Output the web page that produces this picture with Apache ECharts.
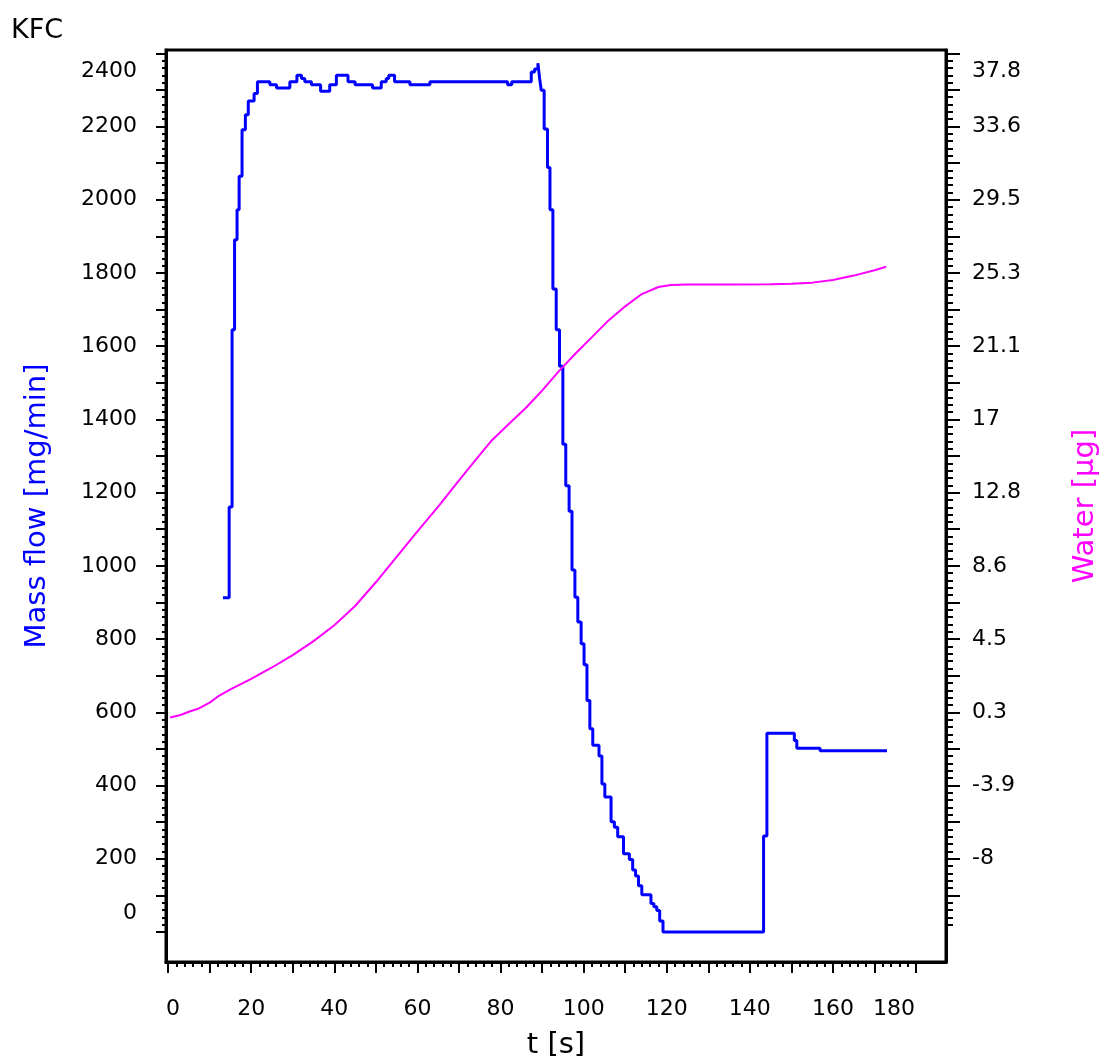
<!DOCTYPE html>
<html>
<head>
<meta charset="utf-8">
<script src="https://cdn.jsdelivr.net/npm/echarts@6/dist/echarts.min.js"></script>
<style>
html,body{margin:0;padding:0;background:#fff;}
#chart{width:1104px;height:1064px;}
</style>
</head>
<body>
<div id="chart"></div>
<script>
// ---------------- data ----------------
const massFlowT = [13.2,14.7,15.4,16.0,16.6,17.1,17.8,18.6,19.3,20.7,21.5,24.5,26.1,29.3,31.0,32.1,32.9,34.5,36.7,38.9,40.5,43.3,45.0,49.2,51.3,52.5,53.1,54.5,58.2,63.0,81.7,82.7,87.4,88.2,89.0,89.4,89.8,90.5,91.3,91.9,92.6,93.4,94.2,95.0,95.7,96.5,97.2,97.9,98.6,99.4,100.1,100.8,101.5,102.2,103.7,104.4,105.1,106.6,107.4,108.2,109.6,111.0,111.8,112.5,113.2,114.0,116.2,116.9,117.6,118.3,119.1,143.3,144.1,150.7,151.3,156.9,173.0];
const massFlowV = [913,1161,1645,1891,1973,2064,2191,2232,2270,2290,2322,2314,2305,2322,2340,2331,2322,2314,2296,2314,2340,2322,2314,2305,2322,2331,2340,2322,2314,2322,2314,2322,2349,2357,2373,2332,2299,2193,2088,1973,1756,1645,1545,1332,1219,1149,989,914,847,787,730,632,555,510,481,404,369,301,286,260,214,198,169,153,126,102,78,69,59,30,0,262,543,523,502,495,495];

const waterT = [0.5,3.0,5.0,7.2,10.0,12.0,15.0,20.0,25.0,30.0,35.0,40.0,45.0,50.0,55.0,60.0,65.0,70.0,75.0,78.0,82.0,86.0,90.0,94.0,98.0,102.0,106.0,110.0,114.0,118.0,121.0,125.0,135.0,145.0,150.0,155.0,160.0,165.0,170.0,172.8];
const waterV = [0.0,0.15,0.33,0.5,0.85,1.2,1.6,2.2,2.85,3.55,4.35,5.25,6.35,7.7,9.15,10.6,12.0,13.5,14.95,15.8,16.7,17.6,18.6,19.7,20.7,21.65,22.6,23.4,24.1,24.5,24.62,24.65,24.65,24.66,24.68,24.75,24.9,25.15,25.45,25.65];

const xTickLabels = [0,20,40,60,80,100,120,140,160,180];
const leftTickLabels = [0,200,400,600,800,1000,1200,1400,1600,1800,2000,2200,2400];
const rightTickLabels = ['-8','-3.9','0.3','4.5','8.6','12.8','17','21.1','25.3','29.5','33.6','37.8'];

// ---------------- axis calibration ----------------
const xMin = -0.5, xMax = 187.2;
const leftMin = -82, leftMax = 2409;
// water axis is linearly tied to the mass-flow axis: 0 mg/min <-> -12.2 ug, 2400 <-> 37.8
const toWater = v => -12.2 + v * 50 / 2400;
const rightMin = toWater(leftMin), rightMax = toWater(leftMax);

function range(a, b, step) {
  const r = [];
  for (let v = a; v <= b + 1e-9; v += step) r.push(Math.round(v * 1000) / 1000);
  return r;
}
const xMajor = range(0, 180, 10);
const xMinor = range(0, 180, 2).filter(v => v % 10 !== 0);
const leftMajor = range(0, 2400, 100);
const leftMinor = range(0, 2400, 20).filter(v => v % 100 !== 0);
const rightMajor = range(100, 2400, 100).map(toWater);
const rightMinor = range(20, 2400, 20).filter(v => v % 100 !== 0).map(toWater);
const rightLabelPos = rightTickLabels.map((s, i) => toWater(200 * (i + 1)));

const FONT = 'DejaVu Sans';
const BLUE = '#0000ff', MAGENTA = '#ff00ff';
const lblBase = { fontSize: 22, fontFamily: FONT, color: '#000' };
const TOP_SHIFT = [36, 0, 0, 0];

function zip(a, b) { return a.map((v, i) => [v, b[i]]); }

const chart = echarts.init(document.getElementById('chart'), null, { renderer: 'canvas' });

const minorAxisCommon = {
  type: 'value',
  axisLine: { show: false, onZero: false },
  axisLabel: { show: false },
  splitLine: { show: false }
};

chart.setOption({
  animation: false,
  backgroundColor: '#fff',
  title: {
    text: 'KFC', left: 11, top: 17, padding: 0,
    textStyle: { fontSize: 27, fontWeight: 'normal', fontFamily: FONT, color: '#000' }
  },
  grid: {
    left: 166, top: 50, width: 780, height: 912,
    show: true, borderColor: '#000', borderWidth: 3, backgroundColor: 'transparent',
    containLabel: false, outerBoundsMode: 'none'
  },
  xAxis: [
    {
      type: 'value', min: xMin, max: xMax, position: 'bottom',
      name: 't [s]', nameLocation: 'middle', nameGap: 69, nameMoveOverlap: false,
      nameTextStyle: { fontSize: 29, fontFamily: FONT, color: '#000' },
      axisLine: { show: true, onZero: false, lineStyle: { color: '#000', width: 3 } },
      axisTick: { show: true, customValues: xMajor, length: 11, lineStyle: { color: '#000', width: 2 } },
      axisLabel: {
        customValues: xTickLabels, margin: 36, ...lblBase,
        formatter: v => v === xTickLabels[0] ? '{l|' + v + '}' : (v === xTickLabels[xTickLabels.length - 1] ? '{r|' + v + '}' : String(v)),
        rich: { l: { ...lblBase, padding: [0, 0, 0, 10] }, r: { ...lblBase, padding: [0, 44, 0, 0] } }
      },
      splitLine: { show: false }
    },
    {
      ...minorAxisCommon, min: xMin, max: xMax, position: 'bottom',
      axisTick: { show: true, customValues: xMinor, length: 5, lineStyle: { color: '#000', width: 2 } }
    }
  ],
  yAxis: [
    {
      type: 'value', min: leftMin, max: leftMax, position: 'left',
      name: 'Mass flow [mg/min]', nameLocation: 'middle', nameRotate: 90, nameGap: 114, nameMoveOverlap: false,
      nameTextStyle: { fontSize: 29, fontFamily: FONT, color: BLUE },
      axisLine: { show: true, onZero: false, lineStyle: { color: '#000', width: 3 } },
      axisTick: { show: true, customValues: leftMajor, length: 10, lineStyle: { color: '#000', width: 2 } },
      axisLabel: {
        customValues: leftTickLabels, margin: 29, ...lblBase,
        formatter: v => v === leftTickLabels[leftTickLabels.length - 1] ? '{t|' + v + '}' : (v === leftTickLabels[0] ? '{b|' + v + '}' : String(v)),
        rich: { t: { ...lblBase, padding: TOP_SHIFT }, b: { ...lblBase, padding: [0, 0, 38, 0] } }
      },
      splitLine: { show: false }
    },
    {
      type: 'value', min: rightMin, max: rightMax, position: 'right',
      name: 'Water [µg]', nameLocation: 'middle', nameRotate: 90, nameGap: 125, nameMoveOverlap: false,
      nameTextStyle: { fontSize: 29, fontFamily: FONT, color: MAGENTA },
      axisLine: { show: true, onZero: false, lineStyle: { color: '#000', width: 3 } },
      axisTick: { show: true, customValues: rightMajor, length: 14, lineStyle: { color: '#000', width: 2 } },
      axisLabel: {
        customValues: rightLabelPos, margin: 26, ...lblBase,
        formatter: v => {
          let best = 0;
          rightLabelPos.forEach((p, i) => { if (Math.abs(p - v) < Math.abs(rightLabelPos[best] - v)) best = i; });
          const s = rightTickLabels[best];
          return best === rightTickLabels.length - 1 ? '{t|' + s + '}' : s;
        },
        rich: { t: { ...lblBase, padding: TOP_SHIFT } }
      },
      splitLine: { show: false }
    },
    {
      ...minorAxisCommon, min: leftMin, max: leftMax, position: 'left',
      axisTick: { show: true, customValues: leftMinor, length: 4, lineStyle: { color: '#000', width: 2 } }
    },
    {
      ...minorAxisCommon, min: rightMin, max: rightMax, position: 'right',
      axisTick: { show: true, customValues: rightMinor, length: 7, lineStyle: { color: '#000', width: 2 } }
    }
  ],
  series: [
    {
      name: 'Mass flow', type: 'line', xAxisIndex: 0, yAxisIndex: 0,
      data: zip(massFlowT, massFlowV), step: 'end', symbol: 'none',
      lineStyle: { color: BLUE, width: 3 }, itemStyle: { color: BLUE }
    },
    {
      name: 'Water', type: 'line', xAxisIndex: 0, yAxisIndex: 1,
      data: zip(waterT, waterV), symbol: 'none',
      lineStyle: { color: MAGENTA, width: 2 }, itemStyle: { color: MAGENTA }
    }
  ]
});
</script>
</body>
</html>
